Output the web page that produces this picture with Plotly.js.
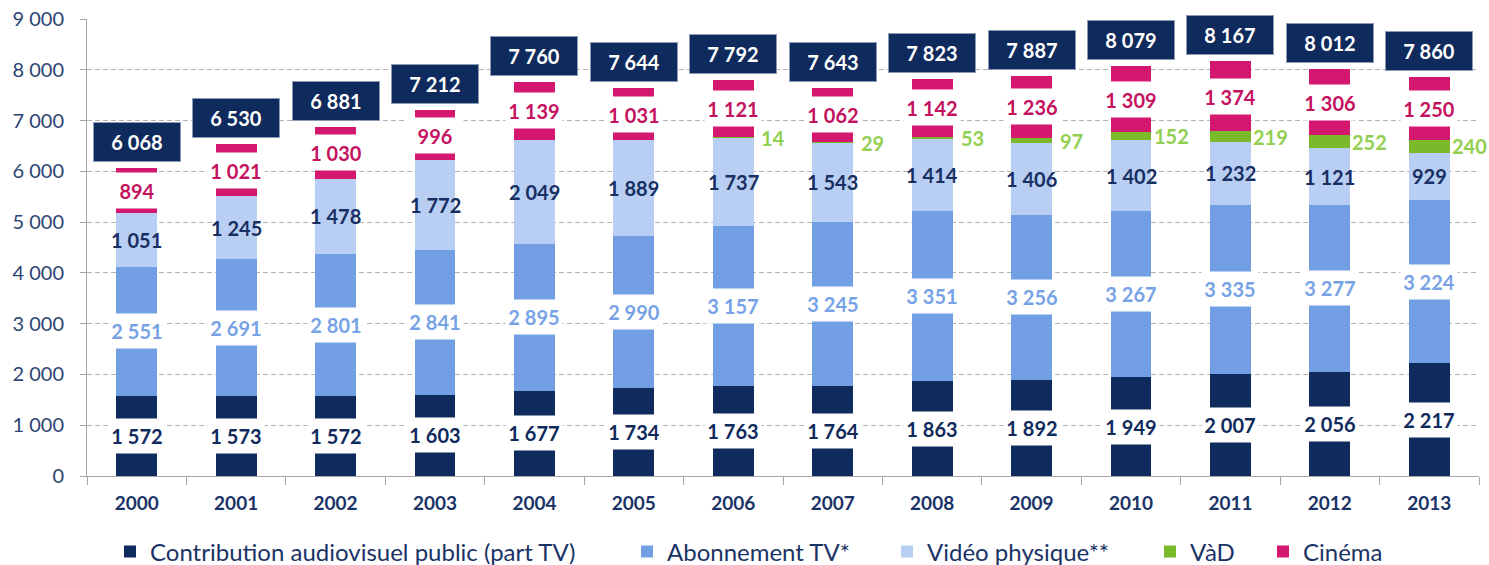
<!DOCTYPE html>
<html>
<head>
<meta charset="utf-8">
<script src="https://cdn.plot.ly/plotly-3.0.1.min.js"></script>
<style>
html,body{margin:0;padding:0;background:#ffffff;}
#chart{width:1489px;height:565px;}
</style>
</head>
<body>
<div id="chart"></div>
<script>
// ---- data ----
const years = ['2000','2001','2002','2003','2004','2005','2006','2007','2008','2009','2010','2011','2012','2013'];
const contribution = [1572,1573,1572,1603,1677,1734,1763,1764,1863,1892,1949,2007,2056,2217];
const abonnement   = [2551,2691,2801,2841,2895,2990,3157,3245,3351,3256,3267,3335,3277,3224];
const video        = [1051,1245,1478,1772,2049,1889,1737,1543,1414,1406,1402,1232,1121,929];
const vad          = [0,0,0,0,0,0,14,29,53,97,152,219,252,240];
const cinema       = [894,1021,1030,996,1139,1031,1121,1062,1142,1236,1309,1374,1306,1250];
const totals       = [6068,6530,6881,7212,7760,7644,7792,7643,7823,7887,8079,8167,8012,7860];
const seriesNames  = ['Contribution audiovisuel public (part TV)','Abonnement TV*','Vidéo physique**','VàD','Cinéma'];
const yTickVals    = [0,1000,2000,3000,4000,5000,6000,7000,8000,9000];
const yTickText    = ['0','1 000','2 000','3 000','4 000','5 000','6 000','7 000','8 000','9 000'];

// ---- style ----
const NAVY = '#0F2A5C';
const C_ABO = '#729FE4';
const C_VID = '#B8CEF3';
const C_VAD = '#7AB929';
const C_CIN = '#D4176F';
const FONT = 'Lato, "Open Sans", sans-serif';
const W = 1489;
const legendTextLeft = [150, 667, 927, 1190, 1303];   // px, text start of each legend entry
const legendIds = ['legend','legend2','legend3','legend4','legend5'];

function fmt(v){ return String(v).replace(/\B(?=(\d{3})+(?!\d))/g, ' '); }

const series = [contribution, abonnement, video, vad, cinema];
const colors = [NAVY, C_ABO, C_VID, C_VAD, C_CIN];

const traces = series.map((vals, k) => ({
  type: 'bar',
  name: seriesNames[k],
  legend: legendIds[k],
  x: years,
  y: vals,
  marker: {color: colors[k], line: {width: 0}},
  hoverinfo: 'x+y'
}));

const annotations = [];
const labelFont = {family: FONT, size: 20, weight: 700};
years.forEach((yr, i) => {
  const b1 = contribution[i];
  const b2 = b1 + abonnement[i];
  const b3 = b2 + video[i];
  const b4 = b3 + vad[i];
  const b5 = b4 + cinema[i];
  annotations.push({x: i, y: b1/2, text: fmt(contribution[i]), showarrow: false,
    xanchor: 'center', yanchor: 'middle', bgcolor: '#ffffff', width: 56, height: 34, borderpad: 0,
    font: Object.assign({}, labelFont, {color: NAVY})});
  annotations.push({x: i, y: (b1+b2)/2, text: fmt(abonnement[i]), showarrow: false,
    xanchor: 'center', yanchor: 'middle', bgcolor: '#ffffff', width: 56, height: 34, borderpad: 0,
    font: Object.assign({}, labelFont, {color: '#77A3E6'})});
  annotations.push({x: i, y: (b2+b3)/2, text: fmt(video[i]), showarrow: false,
    xanchor: 'center', yanchor: 'middle',
    font: Object.assign({}, labelFont, {color: '#172F62'})});
  if (vad[i] > 0) {
    annotations.push({x: i, y: (b3+b4)/2, text: fmt(vad[i]), showarrow: false,
      xanchor: 'center', yanchor: 'middle', xshift: 40,
      font: Object.assign({}, labelFont, {color: '#92CF50'})});
  }
  annotations.push({x: i, y: (b4+b5)/2, text: fmt(cinema[i]), showarrow: false,
    xanchor: 'center', yanchor: 'middle', bgcolor: '#ffffff', width: 56, height: 35, borderpad: 0,
    font: Object.assign({}, labelFont, {color: '#C4125F'})});
  annotations.push({x: i, y: totals[i], text: fmt(totals[i]), showarrow: false,
    xanchor: 'center', yanchor: 'bottom', yshift: 6, width: 86, height: 38, borderpad: 0,
    bgcolor: NAVY, bordercolor: '#8C9AB8', borderwidth: 1,
    font: Object.assign({}, labelFont, {color: '#ffffff'})});
});

const layout = {
  width: 1489, height: 565,
  margin: {l: 87, r: 10, t: 19, b: 89, autoexpand: false},
  paper_bgcolor: '#ffffff', plot_bgcolor: '#ffffff',
  barmode: 'stack',
  bargap: 0.59,
  font: {family: FONT, color: NAVY},
  xaxis: {
    type: 'category',
    range: [-0.5, 13.5],
    showline: true, linecolor: '#A6A6A6', linewidth: 1,
    ticks: 'outside', tickson: 'boundaries', ticklen: 8, tickcolor: '#A6A6A6',
    ticklabelstandoff: 10,
    tickfont: {family: FONT, size: 19, weight: 700, color: '#1A3366'},
    showgrid: false, zeroline: false, fixedrange: true
  },
  yaxis: {
    range: [0, 9000],
    tickvals: yTickVals, ticktext: yTickText,
    showline: true, linecolor: '#A6A6A6', linewidth: 1,
    ticks: 'outside', ticklen: 6, tickcolor: '#A6A6A6',
    ticklabelstandoff: 12,
    tickfont: {family: FONT, size: 20, color: '#2E4473'},
    showgrid: true, gridcolor: '#B3B3B3', gridwidth: 1, griddash: '5px,3px',
    zeroline: false, fixedrange: true
  },
  annotations: annotations,
  showlegend: true
};
legendIds.forEach((id, k) => {
  layout[id] = {
    orientation: 'h',
    xref: 'container', yref: 'container',
    x: (legendTextLeft[k] - 40) / W, xanchor: 'left',
    y: 0.023, yanchor: 'middle',
    bgcolor: 'rgba(0,0,0,0)',
    font: {family: FONT, size: 24, color: '#1A3366'},
    itemwidth: 30
  };
});

Plotly.newPlot('chart', traces, layout, {displayModeBar: false, staticPlot: true});
</script>
</body>
</html>
